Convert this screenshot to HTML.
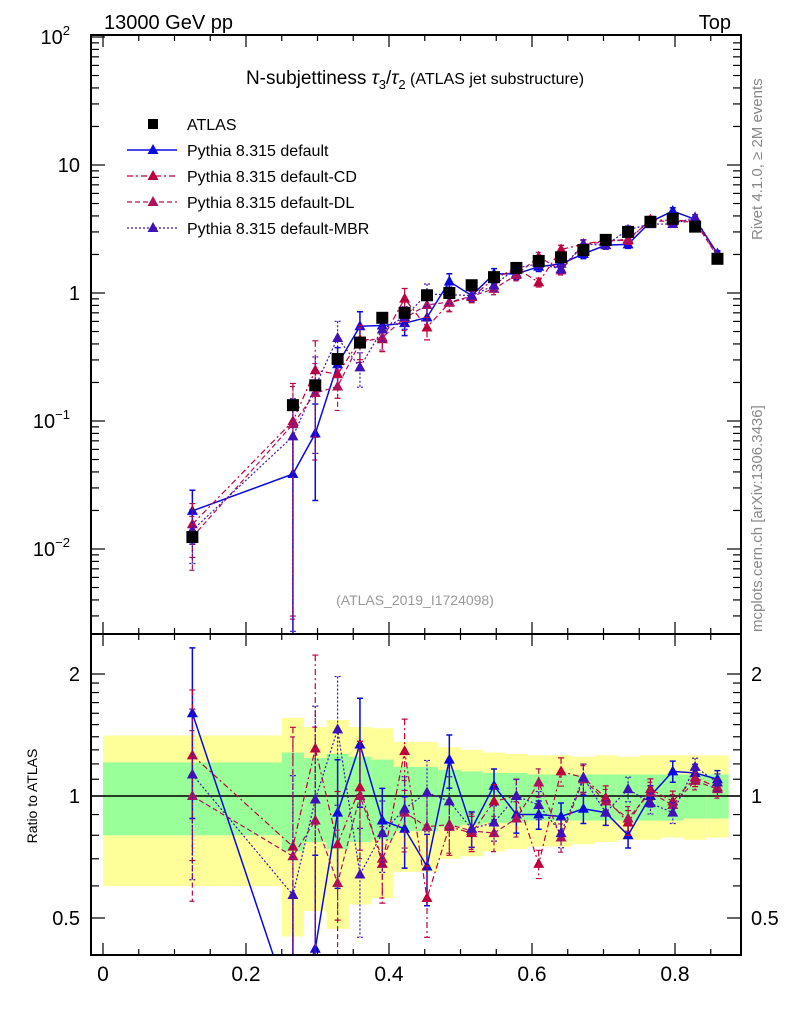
<!DOCTYPE html>
<html><head><meta charset="utf-8"><style>
html,body{margin:0;padding:0;background:#fff;width:786px;height:1024px;overflow:hidden}
svg{display:block}
svg text{font-family:"Liberation Sans",sans-serif}
</style></head><body>
<svg id="c" width="786" height="1024" viewBox="0 0 786 1024" xmlns="http://www.w3.org/2000/svg">
<defs>
<clipPath id="cm"><rect x="91" y="35" width="650" height="599"/></clipPath>
<clipPath id="cr"><rect x="91" y="634" width="650" height="321"/></clipPath>
</defs>
<g id="bands" clip-path="url(#cr)"></g>
<g id="mainMarks" clip-path="url(#cm)"></g>
<g id="ratioMarks" clip-path="url(#cr)"></g>
<g id="axes"></g>
<text x="104" y="29" font-size="20">13000 GeV pp</text>
<text x="731" y="29" font-size="20" text-anchor="end">Top</text>
<text x="415" y="84" font-size="19" text-anchor="middle">N-subjettiness <tspan font-style="italic">τ</tspan><tspan font-size="13" dy="5">3</tspan><tspan dy="-5">/</tspan><tspan font-style="italic">τ</tspan><tspan font-size="13" dy="5">2</tspan><tspan dy="-5" font-size="16"> (ATLAS jet substructure)</tspan></text>
<text x="415" y="605" font-size="14" fill="#999" text-anchor="middle">(ATLAS_2019_I1724098)</text>
<text transform="translate(762,240) rotate(-90)" font-size="15" fill="#888">Rivet 4.1.0, ≥ 2M events</text>
<text transform="translate(762,632) rotate(-90)" font-size="15" fill="#888">mcplots.cern.ch [arXiv:1306.3436]</text>
<text transform="translate(37,796) rotate(-90)" font-size="14" text-anchor="middle">Ratio to ATLAS</text>
<g id="legend"></g>
</svg>
<script>
const binCenters=[0.125,0.265625,0.296875,0.328125,0.359375,0.390625,0.421875,0.453125,0.484375,0.515625,0.546875,0.578125,0.609375,0.640625,0.671875,0.703125,0.734375,0.765625,0.796875,0.828125,0.859375];
const binLo=[0,0.25,0.28125,0.3125,0.34375,0.375,0.40625,0.4375,0.46875,0.5,0.53125,0.5625,0.59375,0.625,0.65625,0.6875,0.71875,0.75,0.78125,0.8125,0.84375];
const binHi=[0.25,0.28125,0.3125,0.34375,0.375,0.40625,0.4375,0.46875,0.5,0.53125,0.5625,0.59375,0.625,0.65625,0.6875,0.71875,0.75,0.78125,0.8125,0.84375,0.875];
const atlasVals=[0.0124,0.133,0.19,0.305,0.41,0.64,0.70,0.96,1.0,1.15,1.33,1.57,1.78,1.9,2.17,2.6,3.0,3.6,3.8,3.3,1.85];
const ratioDefault=[1.60,0.29,0.42,0.91,1.34,0.87,0.83,0.67,1.23,0.83,1.06,0.90,0.90,0.89,0.93,0.91,0.80,1.0,1.15,1.14,1.10];
const ratioCD=[1.26,0.75,1.31,0.76,1.05,0.68,1.29,0.56,0.84,0.81,0.97,1.0,0.68,1.15,1.11,0.99,0.86,1.04,0.97,1.11,1.05];
const ratioDL=[1.0,0.71,0.87,0.61,1.0,0.70,0.91,0.84,0.85,0.82,0.81,0.88,1.08,0.79,1.10,0.97,0.88,1.02,0.95,1.09,1.04];
const ratioMBR=[1.13,0.57,0.98,1.46,0.64,0.81,0.93,1.02,0.97,0.83,0.86,1.0,0.95,0.81,1.11,0.91,1.04,0.96,0.91,1.18,1.08];
const mcRelErr=[0.45,0.97,0.7,0.35,0.3,0.2,0.2,0.2,0.15,0.1,0.1,0.1,0.08,0.08,0.08,0.07,0.07,0.06,0.06,0.05,0.05];
const yellowUp=[1.41,1.56,1.48,1.54,1.48,1.47,1.36,1.36,1.32,1.30,1.28,1.27,1.26,1.26,1.25,1.26,1.25,1.26,1.26,1.26,1.26];
const yellowDn=[0.60,0.45,0.52,0.47,0.54,0.56,0.65,0.65,0.70,0.71,0.73,0.74,0.75,0.75,0.76,0.77,0.78,0.78,0.79,0.78,0.79];
const greenUp=[1.21,1.28,1.24,1.27,1.25,1.23,1.18,1.18,1.16,1.15,1.14,1.14,1.13,1.13,1.13,1.13,1.13,1.13,1.13,1.13,1.13];
const greenDn=[0.80,0.73,0.77,0.74,0.77,0.78,0.82,0.82,0.84,0.85,0.86,0.86,0.87,0.87,0.87,0.87,0.87,0.87,0.87,0.88,0.88];
const xTicks=[0,0.2,0.4,0.6,0.8];
const xTickLabels=["0","0.2","0.4","0.6","0.8"];
const ratioTicks=[0.5,1,2];
const ratioTickLabels=["0.5","1","2"];

const NS="http://www.w3.org/2000/svg";
const X=v=>103+715*v;
const YM=v=>293-128*Math.log10(Math.max(v,1e-6));
const YR=r=>796-122*Math.log2(Math.max(r,1e-3));
function mk(tag,attrs,parent){const e=document.createElementNS(NS,tag);for(const k in attrs)e.setAttribute(k,attrs[k]);parent.appendChild(e);return e;}
const bands=document.getElementById('bands'),mm=document.getElementById('mainMarks'),rm=document.getElementById('ratioMarks'),ax=document.getElementById('axes'),lg=document.getElementById('legend');

for(let i=0;i<binCenters.length;i++){
  const x0=X(binLo[i]),w=X(binHi[i])-x0;
  const y=mk('rect',{x:x0,y:YR(yellowUp[i]),width:w,height:YR(yellowDn[i])-YR(yellowUp[i]),fill:'#ffff99'},bands);
  
  
  const g=mk('rect',{x:x0,y:YR(greenUp[i]),width:w,height:YR(greenDn[i])-YR(greenUp[i]),fill:'#99ff99'},bands);
  
  
}
const unity=mk('line',{x1:91,x2:741,y1:YR(1),y2:YR(1),stroke:'#000','stroke-width':1.5},rm);



const series=[
 {name:'default',r:ratioDefault,c:'#0a0ae0',d:'',w:1.5},
 {name:'default-cd',r:ratioCD,c:'#c0003c',d:'6,3,2,3',w:1.2},
 {name:'default-dl',r:ratioDL,c:'#b0105c',d:'5,3',w:1.2},
 {name:'default-mbr',r:ratioMBR,c:'#4010b8',d:'2,2',w:1.2}
];
function tri(parent,x,y,c){return mk('path',{d:`M${x},${y-6}L${x+5.5},${y+4}L${x-5.5},${y+4}Z`,fill:c},parent);}
function drawSeries(s,parent,yf,valf){
  const pts=binCenters.map((b,i)=>[X(b),yf(valf(i))]);
  const pl=mk('polyline',{points:pts.map(p=>p.join(',')).join(' '),fill:'none',stroke:s.c,'stroke-width':s.w,'stroke-dasharray':s.d},parent);
  
  
  binCenters.forEach((b,i)=>{
    const v=valf(i),e=mcRelErr[i];
    const x=X(b),yu=yf(v*(1+e)),yd=yf(Math.max(v*(1-e),1e-6));
    const eb=mk('path',{d:`M${x},${yu}V${yd}M${x-3},${yu}H${x+3}M${x-3},${yd}H${x+3}`,stroke:s.c,'stroke-width':s.w,'stroke-dasharray':s.d,fill:'none'},parent);
    
    
    const t=tri(parent,x,yf(v),s.c);
    
    
  });
}
series.forEach(s=>{
  drawSeries(s,mm,YM,i=>atlasVals[i]*s.r[i]);
  drawSeries(s,rm,YR,i=>s.r[i]);
});
binCenters.forEach((b,i)=>{
  const r=mk('rect',{x:X(b)-6,y:YM(atlasVals[i])-6,width:12,height:12,fill:'#000'},mm);
  
  
});

[[35,634],[634,955]].forEach(([t,b])=>{
  const f=mk('rect',{x:91,y:t,width:650,height:b-t,fill:'none',stroke:'#000','stroke-width':2},ax);
  
  
});
for(let k=0;k<=17;k++){
  const v=k*0.05,x=X(v);if(x>741)break;
  const L=(k%4===0)?12:6;
  [[35,1],[634,1],[634,-1],[955,-1]].forEach(([y,d])=>mk('line',{x1:x,x2:x,y1:y,y2:y+d*L,stroke:'#000','stroke-width':1.2},ax));
}
xTicks.forEach((v,i)=>{
  const t=mk('text',{x:X(v),y:981,'font-size':21,'text-anchor':'middle'},ax);t.textContent=xTickLabels[i];
  
  
});
for(let dec=-3;dec<2;dec++){
  for(let m=1;m<10;m++){
    const y=YM(m*Math.pow(10,dec));if(y<35||y>634)continue;
    const L=m===1?14:8;
    mk('line',{x1:91,x2:91+L,y1:y,y2:y,stroke:'#000','stroke-width':1.2},ax);
    mk('line',{x1:741,x2:741-L,y1:y,y2:y,stroke:'#000','stroke-width':1.2},ax);
  }
}
mk('line',{x1:91,x2:105,y1:YM(100),y2:YM(100),stroke:'#000','stroke-width':1.2},ax);
const yl=[[100,'10','2'],[10,'10',''],[1,'1',''],[0.1,'10','−1'],[0.01,'10','−2']];
yl.forEach(([v,b,e])=>{
  const t=mk('text',{x:e?70:80,y:YM(v)+7,'font-size':20,'text-anchor':'end'},ax);
  t.textContent=b;
  if(e){const s=mk('tspan',{'font-size':13,dy:-9},t);s.textContent=e;}
  
  
});
[0.5,0.6,0.7,0.8,0.9,1,1.1,1.2,1.3,1.4,1.5,1.6,1.7,1.8,1.9,2].forEach(r=>{
  const y=YR(r);const L=(r===0.5||r===1||r===2)?14:8;
  mk('line',{x1:91,x2:91+L,y1:y,y2:y,stroke:'#000','stroke-width':1.2},ax);
  mk('line',{x1:741,x2:741-L,y1:y,y2:y,stroke:'#000','stroke-width':1.2},ax);
});
ratioTicks.forEach((r,i)=>{
  const a=mk('text',{x:80,y:YR(r)+7,'font-size':20,'text-anchor':'end'},ax);a.textContent=ratioTickLabels[i];
  
  
  const b=mk('text',{x:751,y:YR(r)+7,'font-size':20},ax);b.textContent=ratioTickLabels[i];
  
  
});
const names=['ATLAS','Pythia 8.315 default','Pythia 8.315 default-CD','Pythia 8.315 default-DL','Pythia 8.315 default-MBR'];
names.forEach((n,i)=>{
  const y=124+26*i;
  const g=mk('g',{},lg);
  
  
  if(i===0){mk('rect',{x:148,y:y-5,width:10,height:10,fill:'#000'},g);}
  else{const s=series[i-1];mk('line',{x1:127,x2:177,y1:y,y2:y,stroke:s.c,'stroke-width':s.w,'stroke-dasharray':s.d},g);tri(g,153,y,s.c);}
  const t=mk('text',{x:187,y:y+6,'font-size':16},g);t.textContent=n;
});
</script>
</body></html>
